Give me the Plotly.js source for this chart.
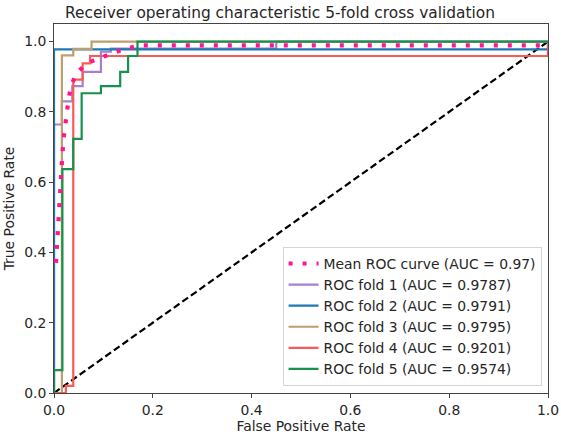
<!DOCTYPE html>
<html>
<head>
<meta charset="utf-8">
<script src="https://cdn.plot.ly/plotly-3.0.1.min.js"></script>
<style>html,body{margin:0;padding:0;background:#fff;}#chart{width:561px;height:434px;}</style>
</head>
<body>
<div id="chart"></div>
<script>
// ROC fold data (false positive rate, true positive rate)
const fold1_fpr = [0, 0, 0.016, 0.016, 0.037, 0.037, 0.058, 0.058, 0.095, 0.095, 0.115, 0.115, 0.45, 0.45, 1.0];
const fold1_tpr = [0, 0.764, 0.764, 0.83, 0.83, 0.873, 0.873, 0.914, 0.914, 0.971, 0.971, 0.98, 0.98, 1.0, 1.0];
const fold2_fpr = [0, 0, 1.0, 1.0];
const fold2_tpr = [0, 0.978, 0.978, 1.0];
const fold3_fpr = [0, 0.016, 0.016, 0.039, 0.039, 0.076, 0.076, 1.0];
const fold3_tpr = [0, 0, 0.961, 0.961, 0.979, 0.979, 1.0, 1.0];
const fold4_fpr = [0, 0.024, 0.024, 0.039, 0.039, 0.058, 0.058, 0.073, 0.073, 1.0, 1.0];
const fold4_tpr = [0, 0, 0.02, 0.02, 0.892, 0.892, 0.938, 0.938, 0.959, 0.959, 1.0];
const fold5_fpr = [0, 0, 0.017, 0.017, 0.039, 0.039, 0.056, 0.056, 0.095, 0.095, 0.134, 0.134, 0.15, 0.15, 0.169, 0.169, 1.0];
const fold5_tpr = [0, 0.065, 0.065, 0.637, 0.637, 0.723, 0.723, 0.853, 0.853, 0.873, 0.873, 0.914, 0.914, 0.959, 0.959, 1.0, 1.0];
const mean_fpr = [0.004, 0.007, 0.010, 0.013, 0.017, 0.020, 0.024, 0.029, 0.034, 0.045, 0.066, 0.090, 0.120, 0.150, 0.174, 0.99, 1.0];
const mean_tpr = [0.37, 0.45, 0.54, 0.62, 0.68, 0.73, 0.785, 0.832, 0.871, 0.909, 0.938, 0.952, 0.968, 0.981, 0.989, 0.989, 1.0];
const chance_x = [0, 1];
const chance_y = [0, 1];

const foldNames = ["ROC fold 1 (AUC = 0.9787)", "ROC fold 2 (AUC = 0.9791)", "ROC fold 3 (AUC = 0.9795)", "ROC fold 4 (AUC = 0.9201)", "ROC fold 5 (AUC = 0.9574)"];
const meanName = "Mean ROC curve (AUC = 0.97)";
const foldColors = ["#a67fd0", "#1f77b4", "#bf9e6e", "#fa5a55", "#17914d"];
const foldX = [fold1_fpr, fold2_fpr, fold3_fpr, fold4_fpr, fold5_fpr];
const foldY = [fold1_tpr, fold2_tpr, fold3_tpr, fold4_tpr, fold5_tpr];
const tickVals = [0, 0.2, 0.4, 0.6, 0.8, 1.0];
const tickText = ["0.0", "0.2", "0.4", "0.6", "0.8", "1.0"];

const traces = [];
traces.push({x: chance_x, y: chance_y, mode: "lines", showlegend: false, hoverinfo: "skip",
  line: {color: "#000", width: 2.2, dash: "7px,3.5px"}});
for (let i = 0; i < 5; i++) {
  traces.push({x: foldX[i], y: foldY[i], mode: "lines", name: foldNames[i], legendrank: 2 + i,
    line: {color: foldColors[i], width: 2.2}});
}
traces.push({x: mean_fpr, y: mean_tpr, mode: "lines", name: meanName, legendrank: 1,
  line: {color: "#ff1493", width: 4.2, dash: "4px,10px"}});

const axFont = {family: "DejaVu Sans", size: 13.9, color: "#262626"};
const layout = {
  width: 561, height: 434,
  margin: {l: 54, r: 13, t: 24, b: 41, pad: 0},
  paper_bgcolor: "#fff", plot_bgcolor: "#fff",
  font: {family: "DejaVu Sans", size: 13.9, color: "#262626"},
  title: {text: "Receiver operating characteristic 5-fold cross validation",
    font: {family: "DejaVu Sans", size: 15.4, color: "#262626"},
    x: 0.499, xref: "container", xanchor: "center", y: 0.972, yref: "container", yanchor: "middle"},
  xaxis: {range: [0, 1], tickvals: tickVals, ticktext: tickText, showgrid: false, zeroline: false,
    showline: true, mirror: true, linecolor: "#444", linewidth: 1,
    ticks: "outside", ticklen: 4, tickcolor: "#444", tickfont: axFont,
    title: {text: "False Positive Rate", font: axFont, standoff: 4}},
  yaxis: {range: [0, 1.05], tickvals: tickVals, ticktext: tickText, showgrid: false, zeroline: false,
    showline: true, mirror: true, linecolor: "#444", linewidth: 1,
    ticks: "outside", ticklen: 4, tickcolor: "#444", tickfont: axFont,
    title: {text: "True Positive Rate", font: axFont, standoff: 6}},
  legend: {x: 0.987, y: 0.019, xanchor: "right", yanchor: "bottom",
    bgcolor: "rgba(255,255,255,0.85)", bordercolor: "#d6d6d6", borderwidth: 1,
    font: {family: "DejaVu Sans", size: 13.9, color: "#262626"}},
  showlegend: true
};
Plotly.newPlot("chart", traces, layout, {displayModeBar: false, staticPlot: true});
</script>
</body>
</html>
